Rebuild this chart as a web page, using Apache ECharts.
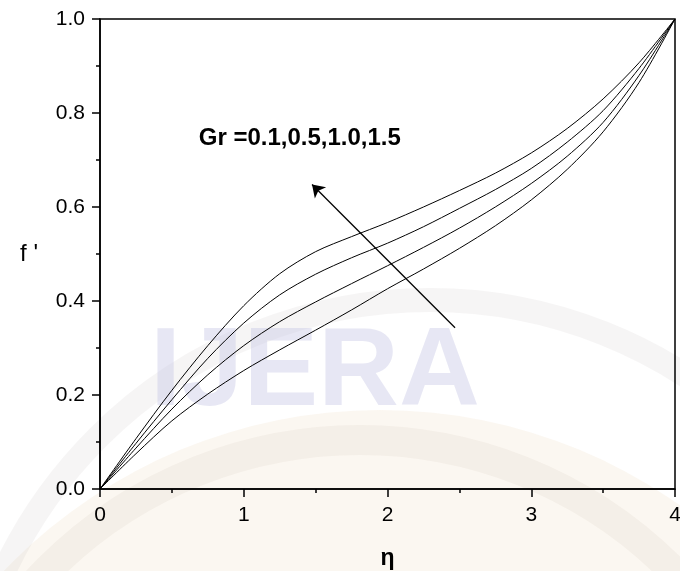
<!DOCTYPE html>
<html>
<head>
<meta charset="utf-8">
<script src="https://cdn.jsdelivr.net/npm/echarts@6/dist/echarts.min.js"></script>
<style>html,body{margin:0;padding:0;background:#fff}#c{width:680px;height:571px}</style>
</head>
<body>
<div id="c"></div>
<script>
var eta = [0, 0.25, 0.5, 0.75, 1.0, 1.25, 1.5, 1.75, 2.0, 2.25, 2.5, 2.75, 3.0, 3.25, 3.5, 3.75, 4.0];
var grLabels = ['0.1', '0.5', '1.0', '1.5'];
var fGr01 = [0, 0.075, 0.145, 0.202, 0.252, 0.296, 0.338, 0.381, 0.426, 0.468, 0.512, 0.560, 0.615, 0.680, 0.760, 0.865, 1.0];
var fGr05 = [0, 0.087, 0.170, 0.243, 0.305, 0.356, 0.398, 0.437, 0.475, 0.514, 0.555, 0.600, 0.650, 0.708, 0.780, 0.880, 1.0];
var fGr10 = [0, 0.097, 0.190, 0.278, 0.353, 0.413, 0.457, 0.492, 0.523, 0.558, 0.597, 0.637, 0.682, 0.738, 0.805, 0.895, 1.0];
var fGr15 = [0, 0.107, 0.210, 0.305, 0.390, 0.458, 0.505, 0.537, 0.567, 0.600, 0.635, 0.672, 0.715, 0.767, 0.830, 0.907, 1.0];
var xTicks = [0, 1, 2, 3, 4];
var yTicks = [0.0, 0.2, 0.4, 0.6, 0.8, 1.0];
var annotationText = 'Gr =0.1,0.5,1.0,1.5';
var arrowFrom = [2.47, 0.343];
var arrowTo = [1.475, 0.648];
var textAt = [1.39, 0.745];

function pairs(ys){ return eta.map(function(x,i){ return [x, ys[i]]; }); }

var chart = echarts.init(document.getElementById('c'));
var FONT = '"Liberation Sans", Arial, sans-serif';
var allSeries = [fGr01, fGr05, fGr10, fGr15].map(function(ys, k){
  return {
    type: 'line', name: 'Gr=' + grLabels[k], data: pairs(ys), smooth: 0.3,
    showSymbol: false, symbol: 'none', silent: true, z: 3,
    lineStyle: { color: '#000', width: 1 }
  };
});
allSeries[0].markLine = {
  silent: true, symbol: ['none', 'arrow'], symbolSize: 12,
  label: { show: false },
  lineStyle: { color: '#000', width: 1.3, type: 'solid' },
  data: [[{ coord: arrowFrom }, { coord: arrowTo }]]
};
allSeries[0].markPoint = {
  silent: true, symbol: 'circle', symbolSize: 0,
  data: [{ coord: textAt, value: annotationText }],
  label: { show: true, position: 'inside', formatter: annotationText,
    color: '#000', fontSize: 24, fontWeight: 'bold', fontFamily: FONT }
};

chart.setOption({
  animation: false,
  backgroundColor: '#fff',
  graphic: [
    { type: 'circle', z: -10, silent: true, shape: { cx: 380, cy: 930, r: 520 },
      style: { fill: 'rgba(240,228,205,0.28)' } },
    { type: 'circle', z: -9, silent: true, shape: { cx: 430, cy: 770, r: 470 },
      style: { fill: 'none', stroke: 'rgba(200,195,190,0.16)', lineWidth: 24 } },
    { type: 'circle', z: -9, silent: true, shape: { cx: 360, cy: 880, r: 440 },
      style: { fill: 'none', stroke: 'rgba(205,190,175,0.14)', lineWidth: 30 } },
    { type: 'text', z: -8, silent: true, left: 150, top: 318,
      style: { text: 'IJERA', font: 'bold 112px ' + FONT, fill: 'rgba(195,195,228,0.4)' } }
  ],
  grid: { left: 100, right: 5, top: 19, bottom: 82, show: true, containLabel: false,
    outerBoundsMode: 'none',
    borderColor: '#000', borderWidth: 1.5, backgroundColor: 'transparent' },
  xAxis: {
    type: 'value', min: xTicks[0], max: xTicks[xTicks.length-1], interval: 1,
    name: 'η', nameLocation: 'middle', nameGap: 58,
    nameTextStyle: { color: '#000', fontSize: 23, fontWeight: 'bold', fontFamily: FONT },
    axisLine: { lineStyle: { color: '#000', width: 1.5 } },
    axisTick: { length: 8, lineStyle: { color: '#000', width: 1.5 } },
    minorTick: { show: true, splitNumber: 2, length: 4, lineStyle: { color: '#000', width: 1.5 } },
    splitLine: { show: false },
    axisLabel: { color: '#000', fontSize: 21, margin: 16, fontFamily: FONT,
      formatter: function(v){ return String(v); } }
  },
  yAxis: {
    type: 'value', min: yTicks[0], max: yTicks[yTicks.length-1], interval: 0.2,
    name: "f '", nameLocation: 'middle', nameGap: 62, nameRotate: 0,
    nameTextStyle: { color: '#000', fontSize: 24, fontFamily: FONT, padding: [10, 0, 0, 0] },
    axisLine: { lineStyle: { color: '#000', width: 1.5 } },
    axisTick: { length: 8, lineStyle: { color: '#000', width: 1.5 } },
    minorTick: { show: true, splitNumber: 2, length: 4, lineStyle: { color: '#000', width: 1.5 } },
    splitLine: { show: false },
    axisLabel: { color: '#000', fontSize: 21, margin: 15, fontFamily: FONT,
      formatter: function(v){ return v.toFixed(1); } }
  },
  series: allSeries
});
</script>
</body>
</html>
